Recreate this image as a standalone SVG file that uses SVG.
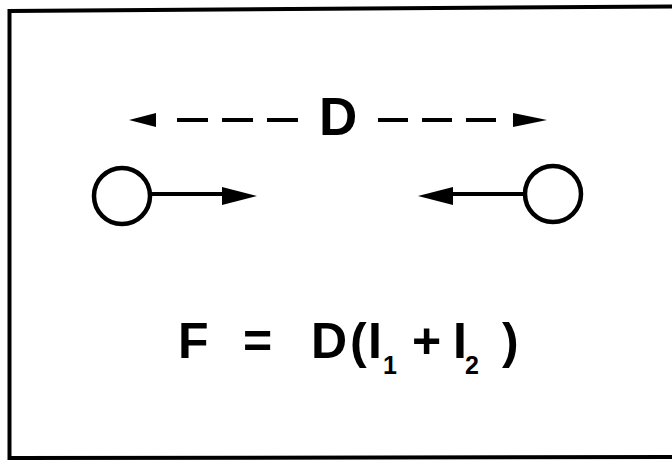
<svg xmlns="http://www.w3.org/2000/svg" width="672" height="462" viewBox="0 0 672 462">
<style>
.ln{stroke:#000;stroke-width:4;fill:none}
.circ{stroke:#000;stroke-width:4.5;fill:#fff}
.t{font-family:"Liberation Sans",Arial,sans-serif;font-weight:bold;fill:#000}
.sub{font-size:25px}
</style>
<rect width="672" height="462" fill="#fff"/>
<path class="ln" d="M672,6.5 L9.5,11 L9.5,458 L672,457"/>
<g id="connectors">
  <line class="ln" x1="177" y1="120" x2="298" y2="120" stroke-dasharray="31 14"/>
  <line class="ln" x1="378" y1="120" x2="497" y2="120" stroke-dasharray="30 14"/>
  <polygon points="129,120 156,113 156,127" fill="#000"/>
  <polygon points="547,120 513,113 513,127" fill="#000"/>
  <line class="ln" x1="150" y1="194" x2="225" y2="194"/>
  <polygon points="257,196 222,187 222,205" fill="#000"/>
  <line class="ln" x1="450" y1="194" x2="525" y2="194"/>
  <polygon points="418,196 453,187 453,205" fill="#000"/>
</g>
<g id="label-D"><text class="t" x="319" y="135" font-size="53">D</text></g>
<g id="node-left"><circle class="circ" cx="122" cy="196" r="28"/></g>
<g id="node-right"><circle class="circ" cx="553" cy="194" r="28"/></g>
<g id="formula">
  <text class="t" y="358" font-size="50"><tspan x="178">F</tspan><tspan x="243">=</tspan><tspan x="311">D</tspan><tspan x="350">(</tspan><tspan x="368">I</tspan><tspan class="sub" x="383" y="374">1</tspan><tspan x="412" y="358">+</tspan><tspan x="453">I</tspan><tspan class="sub" x="465" y="374">2</tspan><tspan x="502" y="358">)</tspan></text>
</g>
</svg>
